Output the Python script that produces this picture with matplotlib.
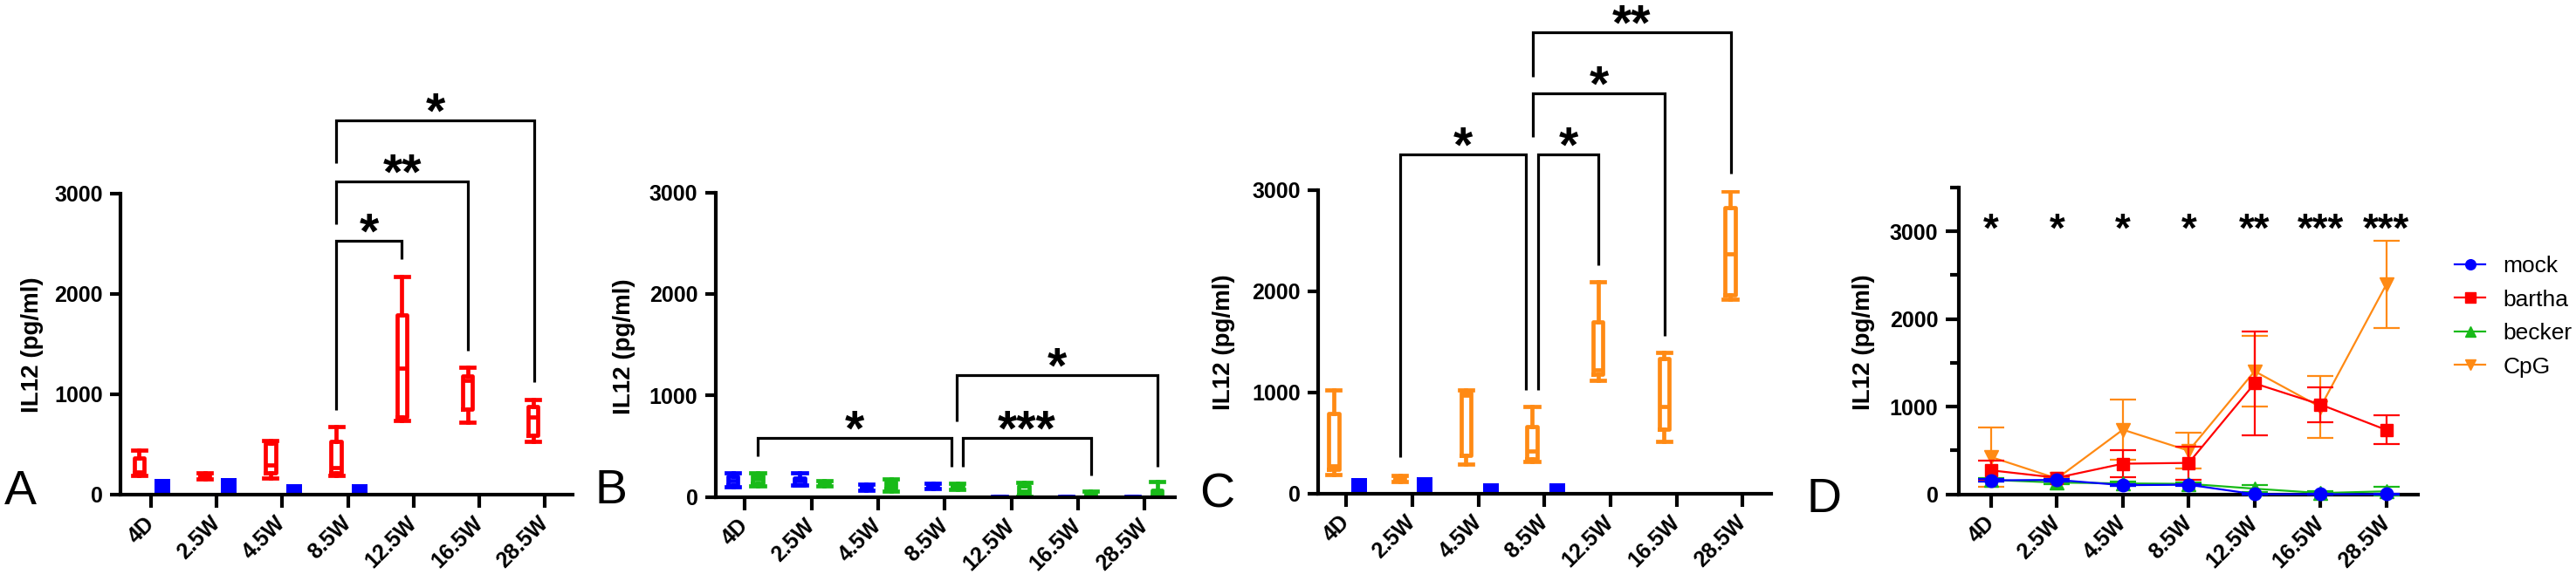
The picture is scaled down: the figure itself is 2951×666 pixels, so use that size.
import matplotlib
matplotlib.use('Agg')
import matplotlib.pyplot as plt
from matplotlib.ticker import MultipleLocator

plt.rcParams['font.family'] = ['Liberation Sans', 'DejaVu Sans']

categories = ['4D', '2.5W', '4.5W', '8.5W', '12.5W', '16.5W', '28.5W']

# five-number summaries per time point: [whislo, q1, median, q3, whishi]
bartha_box = [[195, 215, 230, 365, 445], [160, 170, 185, 200, 215], [166, 221, 294, 508, 541],
              [191, 221, 269, 526, 681], [736, 773, 1259, 1785, 2175], [725, 847, 1141, 1178, 1270],
              [534, 589, 773, 876, 950]]
mock_box = [[100, 120, 160, 200, 235], [115, 120, 160, 185, 235], [65, 80, 100, 115, 128],
            [80, 95, 110, 125, 135], [0, 0, 2, 4, 6], [0, 0, 2, 4, 6], [0, 0, 2, 4, 6]]
becker_box = [[110, 130, 175, 215, 240], [110, 120, 135, 150, 160], [60, 80, 120, 150, 175],
              [75, 95, 110, 125, 137], [5, 25, 60, 110, 143], [0, 5, 20, 40, 57],
              [0, 5, 30, 65, 150]]
cpg_box = [[185, 240, 275, 790, 1023], [115, 125, 150, 170, 180], [287, 375, 975, 994, 1023],
           [320, 339, 423, 663, 858], [1123, 1178, 1226, 1701, 2091], [515, 633, 858, 1333, 1399],
           [1922, 1962, 2371, 2827, 2993]]
mock_bar = [155, 163, 100, 105, 0, 0, 0]

# panel D: mean and SD
mock_mean = [160, 165, 105, 110, 2, 2, 2]
mock_sd = [15, 15, 10, 10, 2, 2, 2]
bartha_mean = [274, 190, 350, 359, 1266, 1025, 735]
bartha_sd = [115, 20, 156, 190, 595, 200, 165]
becker_mean = [165, 135, 125, 120, 65, 15, 35]
becker_sd = [20, 15, 25, 15, 40, 20, 50]
cpg_mean = [426, 181, 738, 498, 1405, 996, 2396]
cpg_sd = [338, 20, 342, 202, 401, 350, 500]
d_stars = ['*', '*', '*', '*', '**', '***', '***']

# significance brackets: (x_left, x_right, top, left_leg_end, right_leg_end, label)
brackets_A = [(2.82, 3.82, 2529, 839, 2348, '*'),
              (2.82, 4.83, 3121, 2694, 1435, '**'),
              (2.82, 5.84, 3729, 3302, 1123, '*')]
brackets_B = [(0.19, 3.10, 581, 401, 300, '*'),
              (3.27, 5.20, 581, 300, 215, '***'),
              (3.18, 6.19, 1202, 744, 300, '*')]
brackets_C = [(0.82, 2.72, 3356, 356, 1028, '*'),
              (2.90, 3.82, 3356, 1028, 2255, '*'),
              (2.82, 4.82, 3955, 3526, 1557, '*'),
              (2.82, 5.82, 4561, 4120, 3166, '**')]

RED = '#FF0000'
BLUE = '#0000FF'
GREEN = '#18BA18'
ORANGE = '#FF8A14'

W, H = 2951, 666
fig = plt.figure(figsize=(W / 100, H / 100), dpi=100)


def add_axes(l, r, b, t):
    return fig.add_axes([l / W, 1 - b / H, (r - l) / W, (b - t) / H])


def style(ax, xlim, ylim, ymajor, ytick_len=8.5):
    ax.set_xlim(*xlim)
    ax.set_ylim(*ylim)
    for s in ['top', 'right']:
        ax.spines[s].set_visible(False)
    for s in ['left', 'bottom']:
        ax.spines[s].set_linewidth(3)
    ax.set_yticks(ymajor)
    ax.tick_params(axis='y', length=ytick_len, width=3, labelsize=18, pad=6)
    ax.tick_params(axis='x', length=11, width=3, labelsize=18, pad=10)
    ax.set_xticks(range(len(categories)))
    ax.set_xticklabels(categories, rotation=45, ha='right', va='center',
                       rotation_mode='anchor', fontweight='bold')
    for lab in ax.get_yticklabels():
        lab.set_fontweight('bold')
    ax.patch.set_alpha(0)


def stats_of(rows):
    return [dict(whislo=r[0], q1=r[1], med=r[2], q3=r[3], whishi=r[4], fliers=[]) for r in rows]


def boxes(ax, rows, offset, color):
    lw = 3.4
    ax.bxp(stats_of(rows), positions=[i + offset for i in range(len(rows))], widths=0.15,
           capwidths=0.2, showfliers=False,
           boxprops=dict(color=color, lw=lw), whiskerprops=dict(color=color, lw=lw),
           capprops=dict(color=color, lw=lw), medianprops=dict(color=color, lw=lw),
           manage_ticks=False)


def star(ax, x, y, s, fs):
    ax.annotate(s, xy=(x, y), xytext=(0, -0.56 * fs), textcoords='offset points',
                ha='center', va='baseline', fontsize=fs, fontweight='bold',
                annotation_clip=False)


def draw_brackets(ax, brackets, fs=41):
    for x1, x2, top, l1, l2, s in brackets:
        ax.plot([x1, x1, x2, x2], [l1, top, top, l2], color='black', lw=2.3,
                clip_on=False, solid_joinstyle='miter', solid_capstyle='butt')
        star(ax, (x1 + x2) / 2, top + 200, s, fs)


def ylabel(x, y):
    fig.text(x / W, 1 - y / H, 'IL12 (pg/ml)', rotation=90, ha='center', va='center',
             fontsize=20, fontweight='bold')


def letter(x, y, s):
    fig.text(x / W, 1 - y / H, s, ha='left', va='baseline', fontsize=40)


xpos = list(range(len(categories)))

# ---------- Panel A ----------
axA = add_axes(138, 656, 567, 221.5)
style(axA, (-0.464, 6.42), (0, 3000), [0, 1000, 2000, 3000])
axA.bar([x + 0.18 for x in xpos], mock_bar, width=0.24, color=BLUE, zorder=2)
boxes(axA, bartha_box, -0.18, RED)
draw_brackets(axA, brackets_A)
ylabel(37, 395)
letter(5, 578, 'A')

# ---------- Panel B ----------
axB = add_axes(819.6, 1345.6, 569.5, 220.7)
style(axB, (-0.444, 6.45), (0, 3000), [0, 1000, 2000, 3000])
boxes(axB, mock_box, -0.18, BLUE)
boxes(axB, becker_box, 0.19, GREEN)
draw_brackets(axB, brackets_B)
ylabel(714.7, 397)
letter(682, 577, 'B')

# ---------- Panel C ----------
axC = add_axes(1510, 2029, 565.7, 218)
style(axC, (-0.426, 6.43), (0, 3000), [0, 1000, 2000, 3000])
axC.bar([x + 0.19 for x in xpos], mock_bar, width=0.24, color=BLUE, zorder=2)
boxes(axC, cpg_box, -0.19, ORANGE)
draw_brackets(axC, brackets_C)
ylabel(1402, 392)
letter(1374, 581, 'C')

# ---------- Panel D ----------
axD = add_axes(2244, 2770, 566.7, 215)
style(axD, (-0.49, 6.48), (0, 3500), [0, 1000, 2000, 3000], ytick_len=11)
axD.yaxis.set_minor_locator(MultipleLocator(500))
axD.tick_params(axis='y', which='minor', length=7.5, width=3)
series = [('CpG', cpg_mean, cpg_sd, ORANGE, 'v', 11, 3.1),
          ('becker', becker_mean, becker_sd, GREEN, '^', 11, 3.2),
          ('bartha', bartha_mean, bartha_sd, RED, 's', 10, 3.3),
          ('mock', mock_mean, mock_sd, BLUE, 'o', 10.5, 3.4)]
handles = {}
for name, m, sd, c, mk, ms, z in series:
    cont = axD.errorbar(xpos, m, yerr=sd, color=c, marker=mk, ms=ms, lw=1.6,
                        elinewidth=1.6, capsize=11, capthick=1.6, zorder=z, clip_on=False,
                        label=name)
    for art in cont.lines[1] + cont.lines[2]:
        art.set_clip_on(False)
    handles[name] = cont.lines[0]
for i, s in enumerate(d_stars):
    star(axD, i, 3140, s, 33)
ylabel(2135, 392)
letter(2069, 587, 'D')

order = ['mock', 'bartha', 'becker', 'CpG']
fig.legend([handles[n] for n in order], order, loc='upper left',
           bbox_to_anchor=(2812 / W, 1 - 293 / H), frameon=False, fontsize=19,
           borderpad=0, borderaxespad=0, handlelength=1.33, handletextpad=0.76,
           labelspacing=0.55, markerscale=0.8)

fig.savefig('out.png', dpi=100, facecolor='white')
